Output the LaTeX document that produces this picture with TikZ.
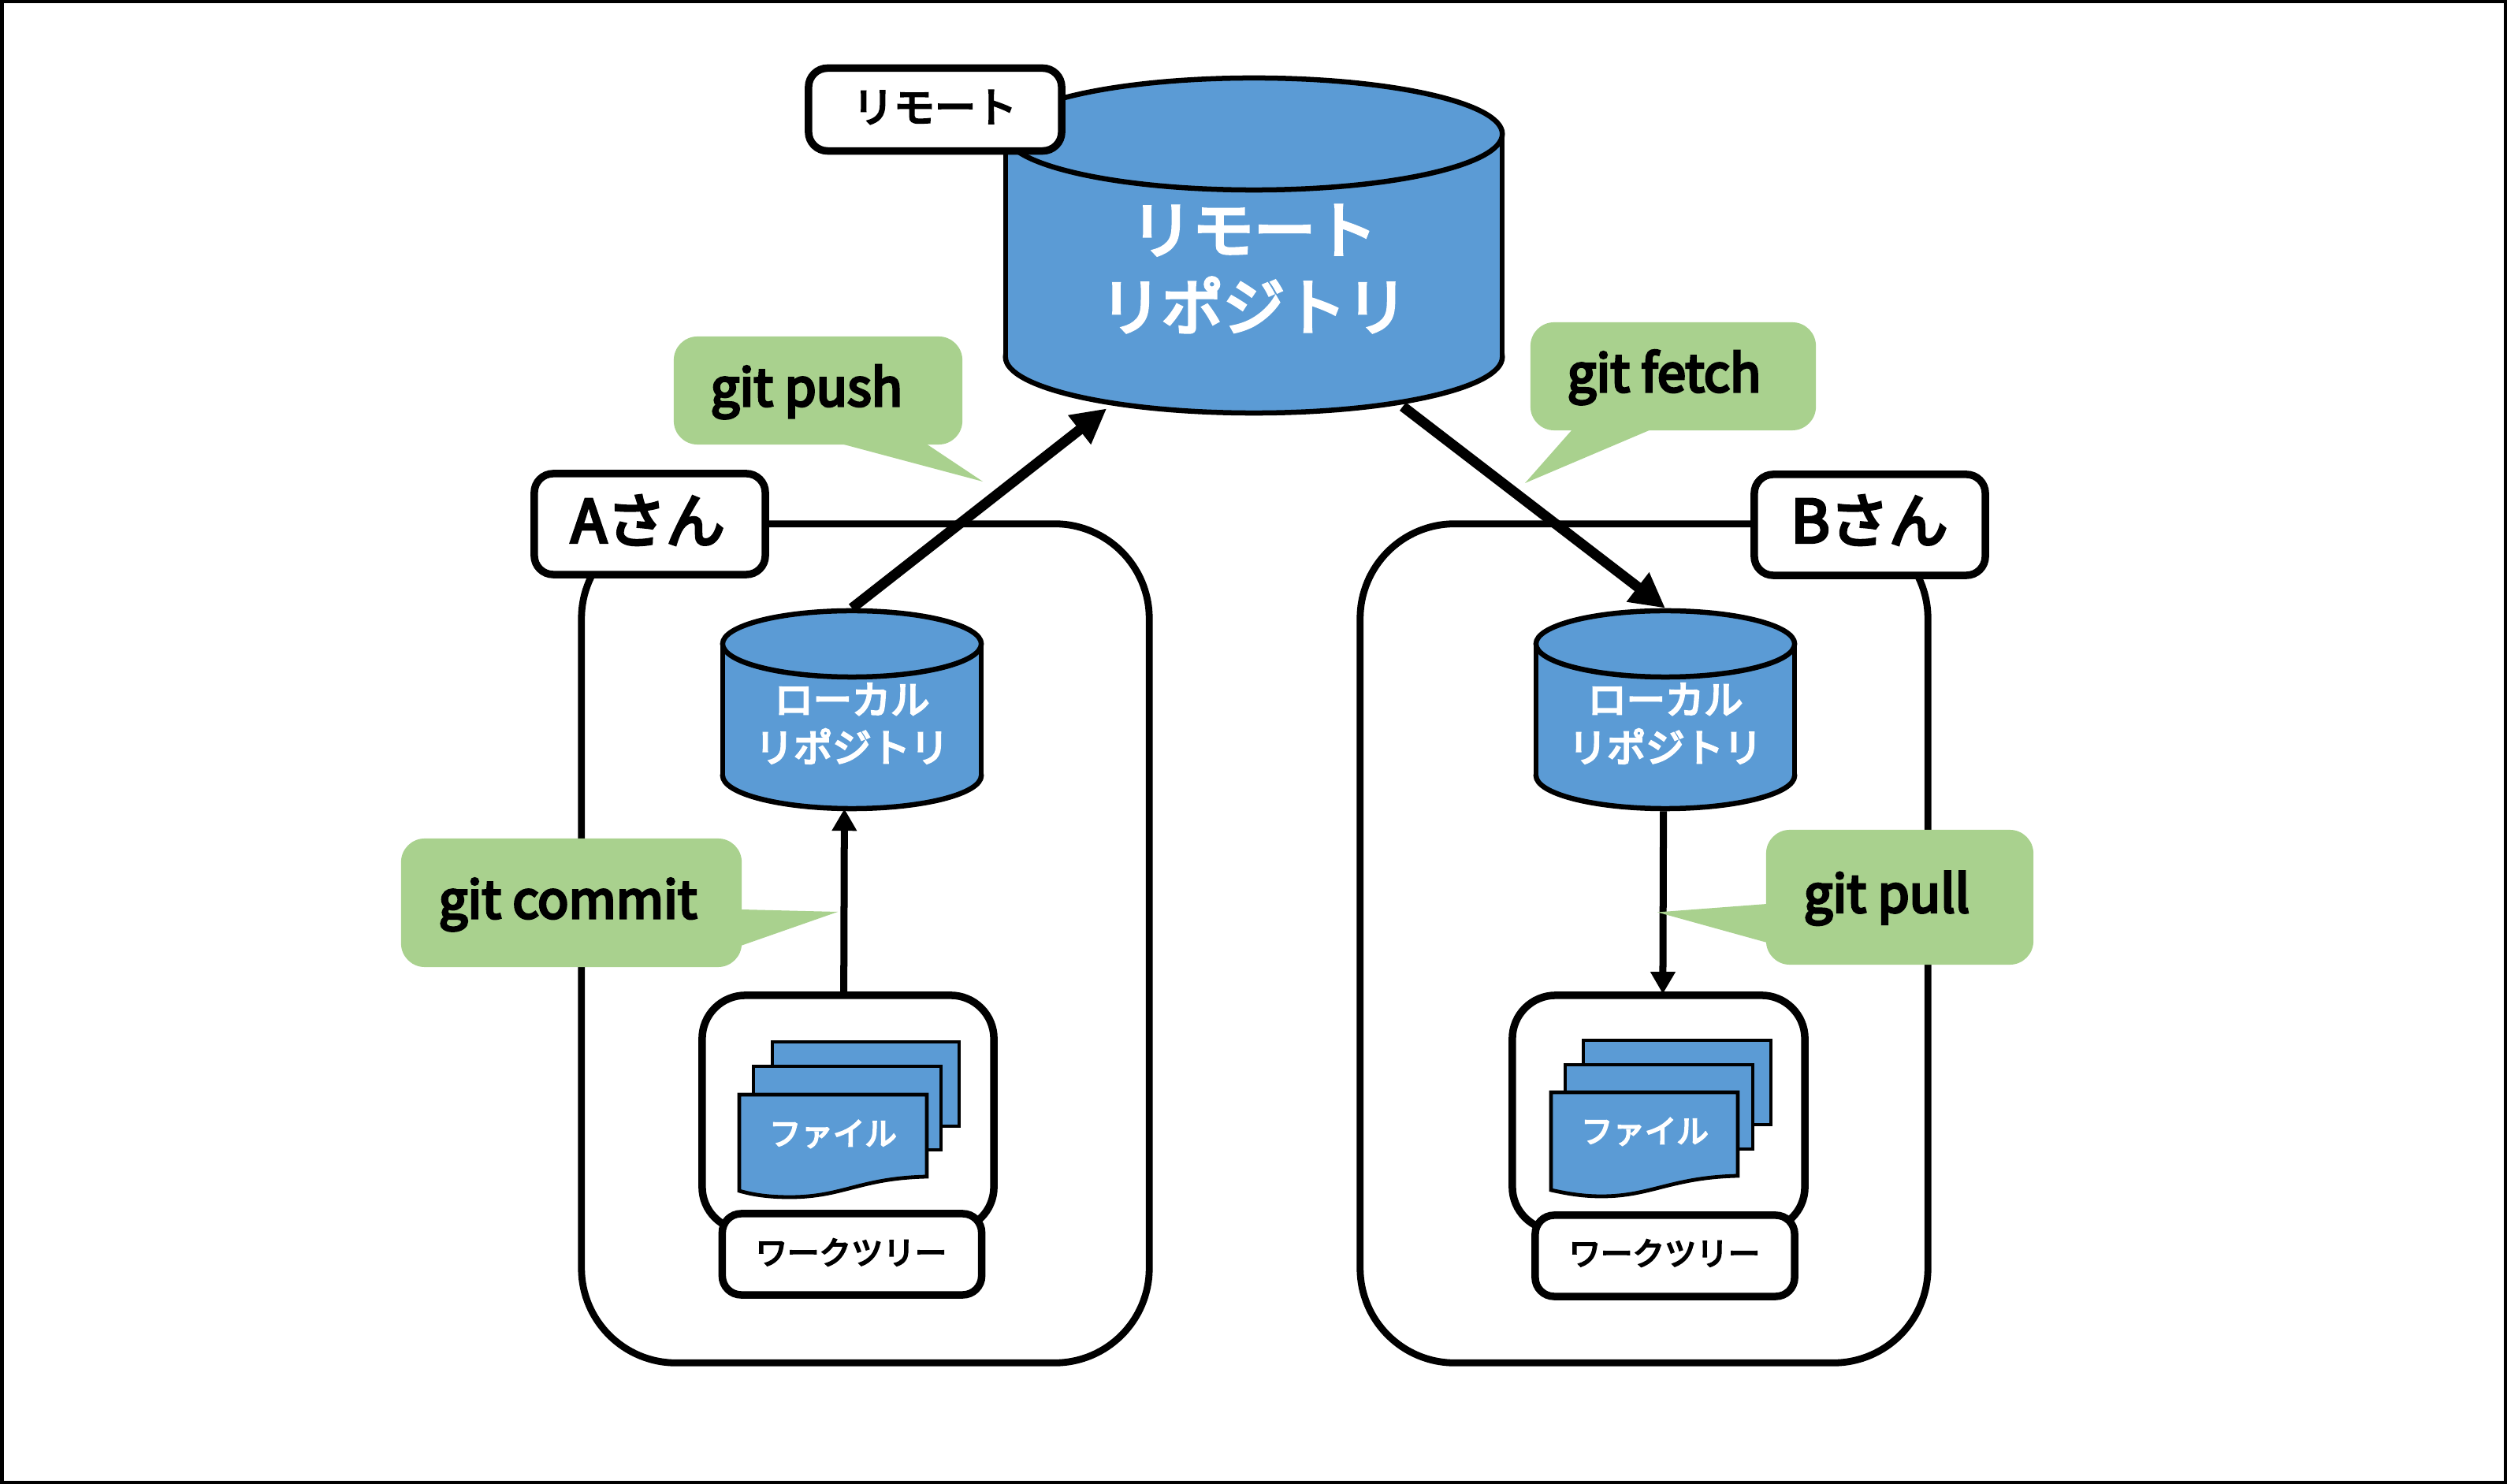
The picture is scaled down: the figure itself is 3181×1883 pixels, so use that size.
\documentclass[tikz,border=0pt]{standalone}
\usepackage{fontspec}
\usetikzlibrary{arrows.meta,shapes.geometric}
\setmainfont{Noto Sans CJK JP}[FakeBold=5]
\definecolor{repoblue}{HTML}{5B9BD5}
\definecolor{bubblegreen}{HTML}{A9D18E}
\tikzset{
  x=0.01cm,y=-0.01cm,
  personbox/.style={draw=black,fill=white,line width=0.088cm,rounded corners=1.2cm,inner sep=0},
  treebox/.style={draw=black,fill=white,line width=0.095cm,rounded corners=0.55cm,inner sep=0},
  tagbox/.style={draw=black,fill=white,line width=0.095cm,rounded corners=0.24cm,inner sep=0},
  discend/.style={ellipse,draw=black,fill=repoblue,line width=0.065cm,inner sep=0},
  bubble/.style={fill=bubblegreen,rounded corners=0.3cm,inner sep=0},
  sheet/.style={draw=black,fill=repoblue,line width=0.048cm},
  bigarrow/.style={line width=0.13cm,-{Triangle[length=0.44cm,width=0.44cm]}},
  smallarrow/.style={line width=0.09cm,-{Triangle[length=0.28cm,width=0.3cm]}},
  gitlabel/.style={font=\fontsize{18.5pt}{22pt}\selectfont,anchor=base west,inner sep=0,text=black},
  whitelabel/.style={align=center,inner sep=0,text=white},
}
\newcommand{\drawcyl}[6]{% name, cx, top cy, base cy, rx, ry (px)
  \node[discend,minimum width=#5*0.02cm,minimum height=#6*0.02cm] (#1Base) at (#2,#4) {};
  \fill[repoblue] (#2-#5,#3) rectangle (#2+#5,#4);
  \draw[line width=0.065cm] (#2-#5,#3) -- (#2-#5,#4) (#2+#5,#3) -- (#2+#5,#4);
  \node[discend,minimum width=#5*0.02cm,minimum height=#6*0.02cm] (#1Top) at (#2,#3) {};
}
\begin{document}
\begin{tikzpicture}
\useasboundingbox (0,0) rectangle (3181,1883);
\fill[white] (0,0) rectangle (3181,1883);
\draw[line width=0.05cm] (2,2) rectangle (3179,1881);

% person containers
\node[personbox,minimum width=7.2cm,minimum height=10.64cm] (personA) at (1098,1197) {};
\node[personbox,minimum width=7.2cm,minimum height=10.64cm] (personB) at (2086,1197) {};

% remote repository
\drawcyl{remote}{1591}{170}{453}{315}{71}
\node[whitelabel,font=\fontsize{22.2pt}{27.8pt}\selectfont] (remoteText) at (1591,341) {リモート\\リポジトリ};
\node[tagbox,minimum width=3.21cm,minimum height=1.05cm] (remoteTag) at (1186.5,139) {};
\node[font=\fontsize{14.8pt}{18pt}\selectfont,inner sep=0] (remoteTagText) at (1186,136) {リモート};

% tags
\node[tagbox,minimum width=2.93cm,minimum height=1.28cm] (tagA) at (824.5,665) {};
\node[font=\fontsize{21.3pt}{24pt}\selectfont,inner sep=0] (tagAText) at (822,660) {Aさん};
\node[tagbox,minimum width=2.93cm,minimum height=1.28cm] (tagB) at (2372.5,666) {};
\node[font=\fontsize{21.3pt}{24pt}\selectfont,inner sep=0] (tagBText) at (2372,660) {Bさん};

% local repositories
\drawcyl{localA}{1081}{817}{984}{164}{42}
\node[whitelabel,font=\fontsize{14pt}{17.3pt}\selectfont] (localAText) at (1081,918) {ローカル\\リポジトリ};
\drawcyl{localB}{2113}{817}{984}{164}{42}
\node[whitelabel,font=\fontsize{14pt}{17.3pt}\selectfont] (localBText) at (2113,918) {ローカル\\リポジトリ};

% work trees A
\node[treebox,minimum width=3.7cm,minimum height=2.98cm] (wtA) at (1076,1412) {};
\draw[sheet] (980,1322) rectangle (1217,1429);
\draw[sheet] (956,1353) rectangle (1194,1459);
\draw[sheet] (938,1389) -- (1176,1389) -- (1176,1493) .. controls (1090,1495) and (1070,1519) .. (1002,1519) .. controls (975,1519) and (955,1516) .. (938,1511) -- cycle;
\node[font=\fontsize{11.5pt}{13pt}\selectfont,text=white,inner sep=0] (filesAText) at (1057,1439) {ファイル};
\node[tagbox,minimum width=3.29cm,minimum height=1.03cm] (wtAtag) at (1081,1591.5) {};
\node[font=\fontsize{11.5pt}{13pt}\selectfont,inner sep=0] (wtAtagText) at (1080,1589) {ワークツリー};

% work trees B
\node[treebox,minimum width=3.71cm,minimum height=2.98cm] (wtB) at (2104.5,1412) {};
\draw[sheet] (2009,1320) rectangle (2247,1427);
\draw[sheet] (1986,1351) rectangle (2224,1458);
\draw[sheet] (1968,1386) -- (2205,1386) -- (2205,1492) .. controls (2120,1494) and (2095,1518) .. (2032,1518) .. controls (2010,1518) and (1990,1515) .. (1968,1510) -- cycle;
\node[font=\fontsize{11.5pt}{13pt}\selectfont,text=white,inner sep=0] (filesBText) at (2087,1436) {ファイル};
\node[tagbox,minimum width=3.29cm,minimum height=1.03cm] (wtBtag) at (2112.5,1593.5) {};
\node[font=\fontsize{11.5pt}{13pt}\selectfont,inner sep=0] (wtBtagText) at (2112,1590) {ワークツリー};

% connectors
\draw[bigarrow] (localATop.north) -- ([shift={(-1,5)}]remoteBase.198);
\draw[bigarrow,shorten <=0.04cm] (remoteBase.342) -- (localBTop.north);
\draw[smallarrow,shorten >=-0.03cm] (wtA.92.7) -- (localABase.258);
\draw[smallarrow,shorten >=-0.03cm] (localBBase.267.3) -- (wtB.88.6);

% speech bubbles
\node[bubble,minimum width=3.66cm,minimum height=1.37cm] (pushBubble) at (1038,495.5) {};
\fill[bubblegreen] (1067,563) -- (1247,611) -- (1175,563) -- cycle;
\node[gitlabel] (pushText) at (901,515) {git push};

\node[bubble,minimum width=3.62cm,minimum height=1.37cm] (fetchBubble) at (2123,477.5) {};
\fill[bubblegreen] (1995,545) -- (1935,613) -- (2095,545) -- cycle;
\node[gitlabel] (fetchText) at (1988,497) {git fetch};

\node[bubble,minimum width=4.32cm,minimum height=1.63cm] (commitBubble) at (725,1145.5) {};
\fill[bubblegreen] (940,1154) -- (1063,1157) -- (940,1200) -- cycle;
\node[gitlabel] (commitText) at (556,1165) {git commit};

\node[bubble,minimum width=3.39cm,minimum height=1.71cm] (pullBubble) at (2410.5,1138.5) {};
\fill[bubblegreen] (2242,1147) -- (2103,1157.5) -- (2242,1196) -- cycle;
\node[gitlabel] (pullText) at (2288,1157.5) {git pull};
\end{tikzpicture}
\end{document}
